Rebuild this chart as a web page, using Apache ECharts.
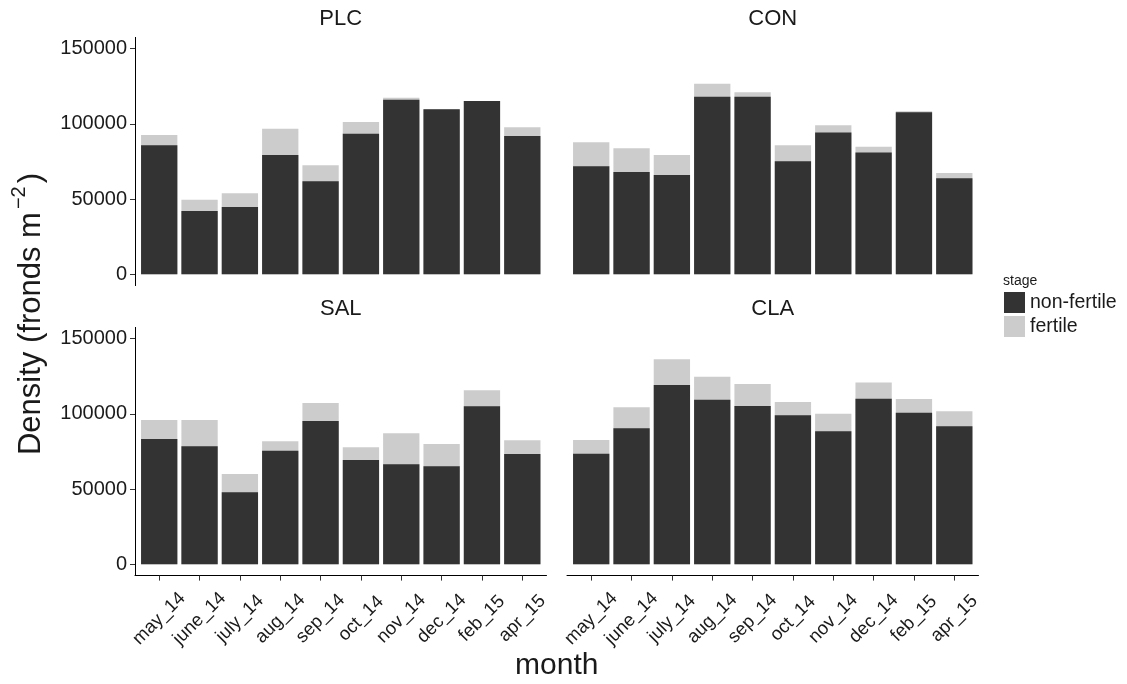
<!DOCTYPE html>
<html>
<head>
<meta charset="utf-8">
<script src="https://cdn.jsdelivr.net/npm/echarts@6/dist/echarts.min.js"></script>
<style>
  html, body { margin: 0; padding: 0; background: #ffffff; }
  #chart { width: 1127px; height: 684px; }
</style>
</head>
<body>
<div id="chart"></div>
<script>
// Sampling months and facet sites
const months = ['may_14', 'june_14', 'july_14', 'aug_14', 'sep_14', 'oct_14', 'nov_14', 'dec_14', 'feb_15', 'apr_15'];
const sites = ['PLC', 'CON', 'SAL', 'CLA'];
const yTicks = [0, 50000, 100000, 150000];

// Frond density per stage (fronds m^-2); fertile values sit on top of non-fertile
const plcNonFertile = [85800, 42100, 44800, 79300, 61800, 93500, 116100, 109700, 115200, 92000];
const plcFertile    = [6800, 7500, 9100, 17500, 10700, 7800, 1300, 0, 0, 5700];
const conNonFertile = [71800, 68000, 66000, 118100, 118100, 75100, 94200, 80900, 107700, 63800];
const conFertile    = [16000, 15800, 13300, 8600, 2900, 10700, 4900, 3900, 700, 3600];
const salNonFertile = [83300, 78500, 47900, 75500, 95300, 69400, 66500, 65200, 105100, 73300];
const salFertile    = [12600, 17400, 12100, 6300, 12000, 8400, 20600, 14800, 10600, 9200];
const claNonFertile = [73500, 90400, 119200, 109400, 105300, 99100, 88400, 110100, 100800, 91800];
const claFertile    = [9200, 14000, 17100, 15300, 14600, 8800, 11700, 10700, 9100, 9900];

const nonFertileBySite = [plcNonFertile, conNonFertile, salNonFertile, claNonFertile];
const fertileBySite = [plcFertile, conFertile, salFertile, claFertile];

const FONT = '"Liberation Sans", Arial, Helvetica, sans-serif';
const DARK = '#333333';
const LIGHT = '#cccccc';
const INK = '#1a1a1a';

// Facet grid layout (2 x 2)
const colLeft = [135, 567];
const colWidth = 411.5;
const rowTop = [37.4, 327.4];
const rowHeight = 248.2;

const monthPos = months.map(function (m, k) { return k + 1; });
const grids = [], xAxes = [], yAxes = [], series = [], graphics = [];

sites.forEach(function (site, i) {
  const col = i % 2, row = Math.floor(i / 2);
  const showX = row === 1;
  const showY = col === 0;
  grids.push({ left: colLeft[col], top: rowTop[row], width: colWidth, height: rowHeight, containLabel: false });

  xAxes.push({
    gridIndex: i,
    type: 'value',
    min: 0.4,
    max: 10.6,
    splitLine: { show: false },
    axisLine: { show: showX, onZero: false, lineStyle: { color: '#000', width: 1 } },
    axisTick: { show: showX, customValues: monthPos, length: 5, lineStyle: { color: '#333', width: 1 } },
    axisLabel: {
      show: showX,
      customValues: monthPos,
      formatter: function (v) { return months[Math.round(v) - 1]; },
      rotate: 45,
      align: 'center',
      verticalAlign: 'middle',
      margin: 43,
      fontSize: 18.5,
      fontFamily: FONT,
      color: INK
    }
  });

  yAxes.push({
    gridIndex: i,
    type: 'value',
    min: -7500,
    max: 157500,
    splitLine: { show: false },
    axisLine: { show: showY, onZero: false, lineStyle: { color: '#000', width: 1 } },
    axisTick: { show: showY, customValues: yTicks, length: 5, lineStyle: { color: '#333', width: 1 } },
    axisLabel: {
      show: showY,
      customValues: yTicks,
      formatter: function (v) { return String(v); },
      margin: 8,
      fontSize: 20,
      fontFamily: FONT,
      color: INK
    }
  });

  const nonFertile = nonFertileBySite[i];
  const fertile = fertileBySite[i];

  // Full column (non-fertile + fertile) in the light colour, non-fertile part drawn over it
  series.push({
    name: 'fertile',
    type: 'bar',
    xAxisIndex: i,
    yAxisIndex: i,
    barWidth: '90%',
    barGap: '-100%',
    itemStyle: { color: LIGHT },
    data: nonFertile.map(function (v, k) { return [k + 1, v + fertile[k]]; })
  });
  series.push({
    name: 'non-fertile',
    type: 'bar',
    xAxisIndex: i,
    yAxisIndex: i,
    barWidth: '90%',
    barGap: '-100%',
    itemStyle: { color: DARK },
    data: nonFertile.map(function (v, k) { return [k + 1, v]; })
  });

  // Facet strip label
  graphics.push({
    type: 'text',
    x: colLeft[col] + colWidth / 2,
    y: rowTop[row] - 18,
    style: { text: site, fontSize: 22, fontFamily: FONT, fill: INK, align: 'center', verticalAlign: 'middle' }
  });
});

// Axis titles and legend heading
graphics.push({
  type: 'text',
  x: (colLeft[0] + colLeft[1] + colWidth) / 2,
  y: 666,
  style: { text: 'month', fontSize: 30, fontFamily: FONT, fill: INK, align: 'center', verticalAlign: 'middle' }
});
graphics.push({
  type: 'text',
  x: 31,
  y: 314,
  rotation: Math.PI / 2,
  style: {
    text: '{a|Density (fronds m}{s|\u22122}{a|)}',
    align: 'center',
    verticalAlign: 'middle',
    fill: INK,
    rich: {
      a: { fontSize: 31, fontFamily: FONT, lineHeight: 44, fill: INK },
      s: { fontSize: 20, fontFamily: FONT, lineHeight: 16, verticalAlign: 'top', fill: INK, padding: [0, 3, 0, 3] }
    }
  }
});
graphics.push({
  type: 'text',
  x: 1003,
  y: 281,
  style: { text: 'stage', fontSize: 14, fontFamily: FONT, fill: INK, align: 'left', verticalAlign: 'middle' }
});

const chart = echarts.init(document.getElementById('chart'), null, { renderer: 'canvas' });
chart.setOption({
  animation: false,
  backgroundColor: '#ffffff',
  textStyle: { fontFamily: FONT },
  grid: grids,
  xAxis: xAxes,
  yAxis: yAxes,
  series: series,
  legend: {
    data: ['non-fertile', 'fertile'],
    orient: 'vertical',
    left: 1004,
    top: 292,
    icon: 'rect',
    itemWidth: 21,
    itemHeight: 21,
    itemGap: 3,
    padding: 0,
    textStyle: { fontSize: 19.5, fontFamily: FONT, color: INK }
  },
  graphic: graphics
});
</script>
</body>
</html>
